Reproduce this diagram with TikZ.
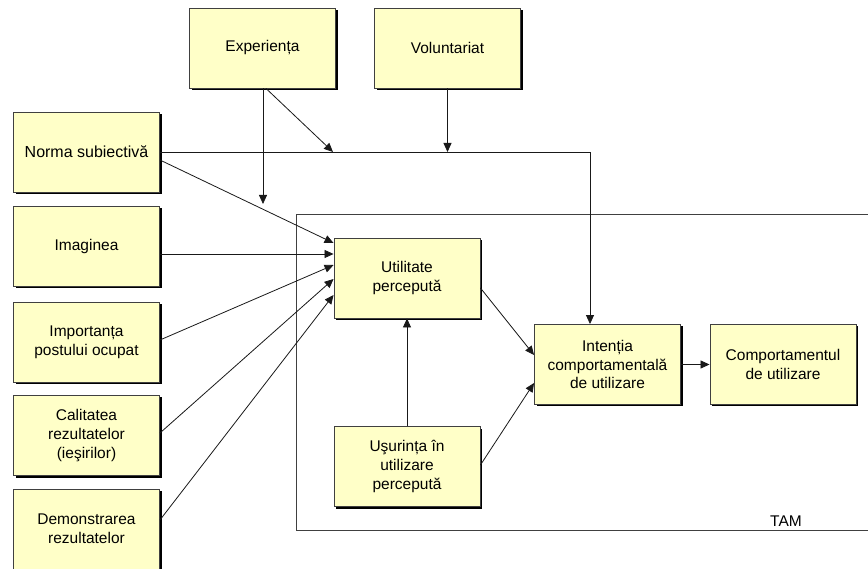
\documentclass[tikz,border=0pt]{standalone}
\usepackage{fontspec}
\setmainfont{Liberation Sans}
\usetikzlibrary{arrows.meta,shadows}
\definecolor{boxfill}{RGB}{255,255,200}
\definecolor{boxline}{RGB}{64,64,64}
\tikzset{
  fbox/.style={draw=boxline, line width=0.9pt, fill=boxfill,
    minimum width=146pt, minimum height=80pt, inner sep=2pt, align=center,
    font=\fontsize{15.5}{18.6}\selectfont,
    general shadow={fill=black, shadow xshift=2pt, shadow yshift=-2pt}},
  conn/.style={line width=0.8pt, draw=black!90},
  arr/.style={conn, -{Triangle[length=9pt,width=8pt]}},
}
\begin{document}
\begin{tikzpicture}[x=1pt,y=-1pt]
\useasboundingbox (0,0) rectangle (868,569);
\clip (0,0) rectangle (868,569);
\fill[white] (0,0) rectangle (868,569);
% TAM frame
\node[draw=boxline, line width=0.9pt, minimum width=600pt, minimum height=316pt,
  anchor=north west, inner sep=0pt] (tam) at (296,214) {};
\node[font=\fontsize{15.5}{18.6}\selectfont] (tamlabel) at (786,521) {TAM};
% boxes
\node[fbox] (exp) at (262.5,48) {Experiența};
\node[fbox] (vol) at (447.5,48) {Voluntariat};
\node[fbox, font=\fontsize{16}{19}\selectfont] (norma) at (86.5,152) {Norma subiectivă};
\node[fbox] (imag) at (86.5,246.5) {Imaginea};
\node[fbox] (impo) at (86.5,342) {Importanța\\postului ocupat};
\node[fbox] (cali) at (86.5,435.5) {Calitatea\\rezultatelor\\(ieşirilor)};
\node[fbox] (demo) at (86.5,529) {Demonstrarea\\rezultatelor};
\node[fbox] (util) at (407,278) {Utilitate\\percepută};
\node[fbox] (usur) at (407,466.5) {Uşurința în\\utilizare\\percepută};
\node[fbox] (inten) at (607.5,364.5) {Intenția\\comportamentală\\de utilizare};
\node[fbox] (comp) at (783,364.5) {Comportamentul\\de utilizare};
% free ends
\coordinate (m1) at (263,204);
\coordinate (m2) at (333,152);
\coordinate (m3) at (590,152);
% connectors
\draw[arr] (exp.south -| m1) -- (m1);
\draw[arr] (exp.south -| 266,0) -- (m2);
\draw[arr] (vol.south) -- (vol.south |- m2);
\draw[arr] (norma.east) -- (m3) -- (inten.north -| m3);
\draw[arr] (norma.east |- 0,160) -- (util.west |- 0,243);
\draw[arr] (imag.east |- 0,254) -- (util.west |- 0,254);
\draw[arr] (impo.east |- 0,340) -- (util.west |- 0,265);
\draw[arr] (cali.east |- 0,433) -- (util.west |- 0,279);
\draw[arr] (demo.east |- 0,520) -- (util.west |- 0,295);
\draw[arr] (util.east |- 0,288) -- (inten.west |- 0,355);
\draw[arr] (usur.north) -- (util.south);
\draw[arr] (usur.east |- 0,465) -- (inten.west |- 0,383);
\draw[arr] (inten.east) -- (comp.west);
\end{tikzpicture}
\end{document}
